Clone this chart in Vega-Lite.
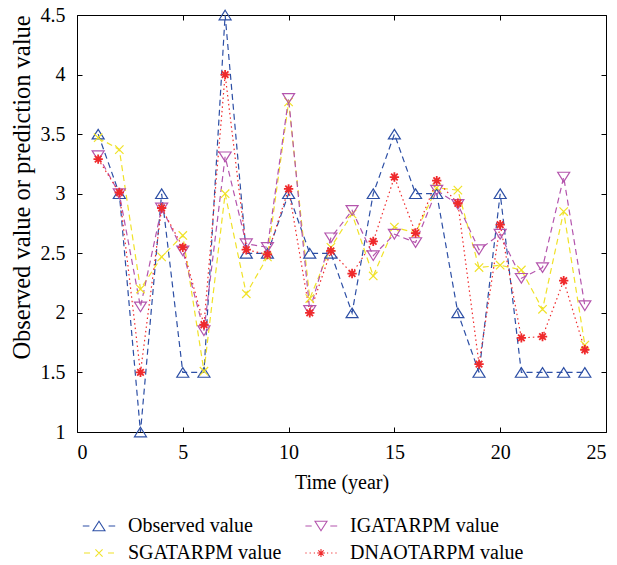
{
  "$schema": "https://vega.github.io/schema/vega-lite/v6.json",
  "width": 529,
  "height": 417,
  "autosize": {"type": "none"},
  "padding": {"left": 77, "top": 15, "right": 11, "bottom": 133},
  "config": {
    "view": {"stroke": "black", "strokeWidth": 1},
    "font": "Liberation Serif",
    "axis": {
      "labelFont": "Liberation Serif", "titleFont": "Liberation Serif",
      "labelFontSize": 20, "titleFontSize": 20, "labelColor": "black", "titleColor": "black",
      "titleFontWeight": "normal", "grid": false, "domain": false,
      "tickColor": "black", "tickSize": -5, "tickWidth": 1
    }
  },
  "data": {"values": [
    {"t":1,"s":"Observed value","v":3.5},{"t":2,"s":"Observed value","v":3.0},{"t":3,"s":"Observed value","v":1.0},{"t":4,"s":"Observed value","v":3.0},{"t":5,"s":"Observed value","v":1.5},{"t":6,"s":"Observed value","v":1.5},{"t":7,"s":"Observed value","v":4.5},{"t":8,"s":"Observed value","v":2.5},{"t":9,"s":"Observed value","v":2.5},{"t":10,"s":"Observed value","v":3.0},{"t":11,"s":"Observed value","v":2.5},{"t":12,"s":"Observed value","v":2.5},{"t":13,"s":"Observed value","v":2.0},{"t":14,"s":"Observed value","v":3.0},{"t":15,"s":"Observed value","v":3.5},{"t":16,"s":"Observed value","v":3.0},{"t":17,"s":"Observed value","v":3.0},{"t":18,"s":"Observed value","v":2.0},{"t":19,"s":"Observed value","v":1.5},{"t":20,"s":"Observed value","v":3.0},{"t":21,"s":"Observed value","v":1.5},{"t":22,"s":"Observed value","v":1.5},{"t":23,"s":"Observed value","v":1.5},{"t":24,"s":"Observed value","v":1.5},
    {"t":1,"s":"SGATARPM value","v":3.47},{"t":2,"s":"SGATARPM value","v":3.37},{"t":3,"s":"SGATARPM value","v":2.2},{"t":4,"s":"SGATARPM value","v":2.47},{"t":5,"s":"SGATARPM value","v":2.65},{"t":6,"s":"SGATARPM value","v":1.51},{"t":7,"s":"SGATARPM value","v":3.0},{"t":8,"s":"SGATARPM value","v":2.16},{"t":9,"s":"SGATARPM value","v":2.47},{"t":10,"s":"SGATARPM value","v":3.77},{"t":11,"s":"SGATARPM value","v":2.12},{"t":12,"s":"SGATARPM value","v":2.55},{"t":13,"s":"SGATARPM value","v":2.83},{"t":14,"s":"SGATARPM value","v":2.31},{"t":15,"s":"SGATARPM value","v":2.72},{"t":16,"s":"SGATARPM value","v":2.67},{"t":17,"s":"SGATARPM value","v":3.05},{"t":18,"s":"SGATARPM value","v":3.03},{"t":19,"s":"SGATARPM value","v":2.38},{"t":20,"s":"SGATARPM value","v":2.4},{"t":21,"s":"SGATARPM value","v":2.36},{"t":22,"s":"SGATARPM value","v":2.03},{"t":23,"s":"SGATARPM value","v":2.85},{"t":24,"s":"SGATARPM value","v":1.73},
    {"t":1,"s":"IGATARPM value","v":3.32},{"t":2,"s":"IGATARPM value","v":3.0},{"t":3,"s":"IGATARPM value","v":2.05},{"t":4,"s":"IGATARPM value","v":2.88},{"t":5,"s":"IGATARPM value","v":2.52},{"t":6,"s":"IGATARPM value","v":1.85},{"t":7,"s":"IGATARPM value","v":3.31},{"t":8,"s":"IGATARPM value","v":2.58},{"t":9,"s":"IGATARPM value","v":2.55},{"t":10,"s":"IGATARPM value","v":3.8},{"t":11,"s":"IGATARPM value","v":2.02},{"t":12,"s":"IGATARPM value","v":2.63},{"t":13,"s":"IGATARPM value","v":2.86},{"t":14,"s":"IGATARPM value","v":2.48},{"t":15,"s":"IGATARPM value","v":2.66},{"t":16,"s":"IGATARPM value","v":2.59},{"t":17,"s":"IGATARPM value","v":3.03},{"t":18,"s":"IGATARPM value","v":2.91},{"t":19,"s":"IGATARPM value","v":2.53},{"t":20,"s":"IGATARPM value","v":2.66},{"t":21,"s":"IGATARPM value","v":2.29},{"t":22,"s":"IGATARPM value","v":2.38},{"t":23,"s":"IGATARPM value","v":3.14},{"t":24,"s":"IGATARPM value","v":2.06},
    {"t":1,"s":"DNAOTARPM value","v":3.29},{"t":2,"s":"DNAOTARPM value","v":3.01},{"t":3,"s":"DNAOTARPM value","v":1.5},{"t":4,"s":"DNAOTARPM value","v":2.88},{"t":5,"s":"DNAOTARPM value","v":2.55},{"t":6,"s":"DNAOTARPM value","v":1.9},{"t":7,"s":"DNAOTARPM value","v":4.0},{"t":8,"s":"DNAOTARPM value","v":2.53},{"t":9,"s":"DNAOTARPM value","v":2.49},{"t":10,"s":"DNAOTARPM value","v":3.04},{"t":11,"s":"DNAOTARPM value","v":2.0},{"t":12,"s":"DNAOTARPM value","v":2.52},{"t":13,"s":"DNAOTARPM value","v":2.33},{"t":14,"s":"DNAOTARPM value","v":2.6},{"t":15,"s":"DNAOTARPM value","v":3.14},{"t":16,"s":"DNAOTARPM value","v":2.67},{"t":17,"s":"DNAOTARPM value","v":3.11},{"t":18,"s":"DNAOTARPM value","v":2.92},{"t":19,"s":"DNAOTARPM value","v":1.57},{"t":20,"s":"DNAOTARPM value","v":2.74},{"t":21,"s":"DNAOTARPM value","v":1.79},{"t":22,"s":"DNAOTARPM value","v":1.8},{"t":23,"s":"DNAOTARPM value","v":2.27},{"t":24,"s":"DNAOTARPM value","v":1.69}
  ]},
  "layer": [
    {
      "transform": [{"filter": "datum.s === 'Observed value'"}],
      "mark": {"type": "line", "strokeWidth": 1.2, "strokeDash": [6, 4]},
      "encoding": {
        "x": {"field": "t", "type": "quantitative", "scale": {"domain": [0, 25], "nice": false, "zero": false},
              "axis": {"orient": "bottom", "title": "Time (year)", "values": [0,5,10,15,20,25], "labelPadding": 15, "titlePadding": 10}},
        "y": {"field": "v", "type": "quantitative", "scale": {"domain": [1, 4.5], "nice": false, "zero": false},
              "axis": {"orient": "left", "title": "Observed value or prediction value", "titleFontSize": 24.5, "titleY": 172, "values": [1,1.5,2,2.5,3,3.5,4,4.5], "format": "~g", "labelPadding": 17, "titlePadding": 6}},
        "color": {"field": "s", "type": "nominal",
                  "scale": {"domain": ["Observed value", "IGATARPM value", "SGATARPM value", "DNAOTARPM value"],
                            "range": ["#2d4fa5", "#b455ad", "#f0e228", "#ef2a2c"]},
                  "legend": {
                    "title": null, "orient": "none", "legendX": 12, "legendY": 501,
                    "columns": 2, "direction": "horizontal", "padding": 0,
                    "labelFont": "Liberation Serif", "labelFontSize": 20, "labelColor": "black", "labelLimit": 0,
                    "symbolSize": 36, "labelOffset": 19, "columnPadding": 21, "rowPadding": 7,
                    "encode": {"symbols": {"update": {"fill": {"value": "transparent"}, "strokeWidth": {"value": 1.1}}}}
                  }}
      }
    },
    {
      "transform": [{"filter": "datum.s === 'SGATARPM value'"}],
      "mark": {"type": "line", "strokeWidth": 1.2, "strokeDash": [6, 4]},
      "encoding": {
        "x": {"field": "t", "type": "quantitative", "axis": null},
        "y": {"field": "v", "type": "quantitative", "axis": null},
        "color": {"field": "s", "type": "nominal"}
      }
    },
    {
      "transform": [{"filter": "datum.s === 'IGATARPM value'"}],
      "mark": {"type": "line", "strokeWidth": 1.2, "strokeDash": [6, 4]},
      "encoding": {
        "x": {"field": "t", "type": "quantitative", "axis": null},
        "y": {"field": "v", "type": "quantitative", "axis": null},
        "color": {"field": "s", "type": "nominal"}
      }
    },
    {
      "transform": [{"filter": "datum.s === 'DNAOTARPM value'"}],
      "mark": {"type": "line", "strokeWidth": 1.2, "strokeDash": [1.5, 3]},
      "encoding": {
        "x": {"field": "t", "type": "quantitative", "axis": null},
        "y": {"field": "v", "type": "quantitative", "axis": null},
        "color": {"field": "s", "type": "nominal"}
      }
    },
    {
      "transform": [{"filter": "datum.s === 'Observed value'"}],
      "mark": {"type": "point", "filled": false, "size": 144, "strokeWidth": 1.2, "opacity": 1, "shape": "M0,-0.8L1,0.8L-1,0.8Z"},
      "encoding": {
        "x": {"field": "t", "type": "quantitative", "axis": null},
        "y": {"field": "v", "type": "quantitative", "axis": null},
        "color": {"field": "s", "type": "nominal"}
      }
    },
    {
      "transform": [{"filter": "datum.s === 'SGATARPM value'"}],
      "mark": {"type": "point", "filled": false, "size": 144, "strokeWidth": 1.2, "opacity": 1, "shape": "M-0.7,-0.7L0.7,0.7M-0.7,0.7L0.7,-0.7"},
      "encoding": {
        "x": {"field": "t", "type": "quantitative", "axis": null},
        "y": {"field": "v", "type": "quantitative", "axis": null},
        "color": {"field": "s", "type": "nominal"}
      }
    },
    {
      "transform": [{"filter": "datum.s === 'IGATARPM value'"}],
      "mark": {"type": "point", "filled": false, "size": 144, "strokeWidth": 1.2, "opacity": 1, "shape": "M0,0.8L1,-0.8L-1,-0.8Z"},
      "encoding": {
        "x": {"field": "t", "type": "quantitative", "axis": null},
        "y": {"field": "v", "type": "quantitative", "axis": null},
        "color": {"field": "s", "type": "nominal"}
      }
    },
    {
      "transform": [{"filter": "datum.s === 'DNAOTARPM value'"}],
      "mark": {"type": "point", "filled": false, "size": 144, "strokeWidth": 1.8, "opacity": 1, "shape": "M-0.78,0L0.78,0M0,-0.78L0,0.78M-0.55,-0.55L0.55,0.55M-0.55,0.55L0.55,-0.55"},
      "encoding": {
        "x": {"field": "t", "type": "quantitative", "axis": null},
        "y": {"field": "v", "type": "quantitative", "axis": null},
        "color": {"field": "s", "type": "nominal"}
      }
    },
    {
      "transform": [{"filter": "datum.t > 100"}],
      "mark": {"type": "point", "filled": false, "strokeWidth": 1.1, "opacity": 1},
      "encoding": {
        "x": {"field": "t", "type": "quantitative", "axis": null},
        "y": {"field": "v", "type": "quantitative", "axis": null},
        "color": {"field": "s", "type": "nominal"},
        "shape": {"field": "s", "type": "nominal",
                  "scale": {"domain": ["Observed value", "IGATARPM value", "SGATARPM value", "DNAOTARPM value"],
                            "range": ["M-5.4,0H-3.2M0,-1.6L2,1.6L-2,1.6ZM3.2,0H5.4", "M-5.2,0H-3.1M0,1.6L2,-1.6L-2,-1.6ZM3.1,0H5.4", "M-5,0H-3M-1.2,-1.2L1.2,1.2M-1.2,1.2L1.2,-1.2M3,0H5", "M-5.2,0H-4.8M-3.8,0H-3.4M-2.4,0H-2M-1.3,0H1.3M0,-1.3V1.3M-0.9,-0.9L0.9,0.9M-0.9,0.9L0.9,-0.9M2,0H2.4M3.4,0H3.8M4.8,0H5.2"]},
                  "legend": {
                    "title": null, "orient": "none", "legendX": 12, "legendY": 501,
                    "columns": 2, "direction": "horizontal", "padding": 0,
                    "labelFont": "Liberation Serif", "labelFontSize": 20, "labelColor": "black", "labelLimit": 0,
                    "symbolSize": 36, "labelOffset": 19, "columnPadding": 21, "rowPadding": 7,
                    "encode": {"symbols": {"update": {"fill": {"value": "transparent"}, "strokeWidth": {"value": 1.1}}}}
                  }}
      }
    },
    {
      "mark": {"type": "point", "opacity": 0},
      "encoding": {
        "x": {"field": "t", "type": "quantitative", "axis": {"orient": "top", "title": null, "labels": false, "values": [0,5,10,15,20,25]}},
        "y": {"field": "v", "type": "quantitative", "axis": {"orient": "right", "title": null, "labels": false, "values": [1,1.5,2,2.5,3,3.5,4,4.5]}}
      }
    }
  ],
  "resolve": {"axis": {"x": "independent", "y": "independent"}}
}
